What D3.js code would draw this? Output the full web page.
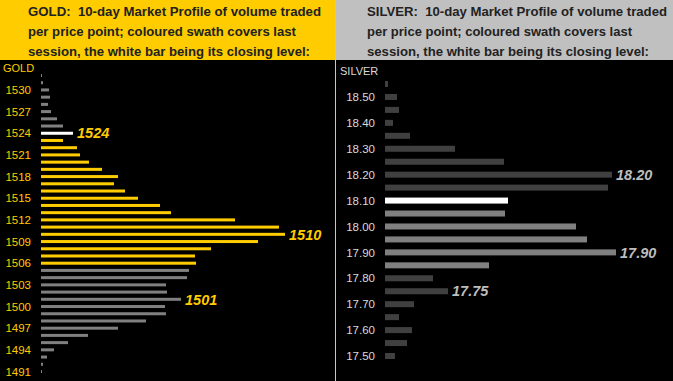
<!DOCTYPE html>
<html>
<head>
<meta charset="utf-8">
<script src="https://cdn.jsdelivr.net/npm/d3@7"></script>
<style>
  body { margin: 0; background: #000; }
  svg { display: block; }
  text { font-family: "Liberation Sans", Arial, sans-serif; }
</style>
</head>
<body>
<div class="chart"></div>
<script>
// gold: price points (top to bottom) and traded volume per point
const goldPrices = [1532, 1531, 1530, 1529, 1528, 1527, 1526, 1525, 1524, 1523, 1522, 1521, 1520, 1519,
  1518, 1517, 1516, 1515, 1514, 1513, 1512, 1511, 1510, 1509, 1508, 1507, 1506, 1505, 1504, 1503,
  1502, 1501, 1500, 1499, 1498, 1497, 1496, 1495, 1494, 1493, 1492, 1491];
const goldVolume = [1, 2, 8, 9, 7, 10, 16, 22, 32, 22, 36, 39, 48, 61,
  77, 73, 84, 97, 119, 130, 194, 238, 244, 217, 170, 154, 155, 148, 146, 125,
  126, 140, 124, 125, 105, 77, 47, 27, 13, 6, 2, 1];
const goldTicks = [1530, 1527, 1524, 1521, 1518, 1515, 1512, 1509, 1506, 1503, 1500, 1497, 1494, 1491];
const goldSession = [1506, 1523];
const goldClose = 1524;
const goldLabels = [1524, 1510, 1501];

// silver
const silverPrices = [18.55, 18.50, 18.45, 18.40, 18.35, 18.30, 18.25, 18.20, 18.15, 18.10, 18.05,
  18.00, 17.95, 17.90, 17.85, 17.80, 17.75, 17.70, 17.65, 17.60, 17.55, 17.50];
const silverVolume = [3, 12, 14, 8, 25, 70, 119, 227, 223, 123, 120,
  191, 202, 231, 104, 48, 63, 29, 14, 27, 22, 10];
const silverTicks = [18.50, 18.40, 18.30, 18.20, 18.10, 18.00, 17.90, 17.80, 17.70, 17.60, 17.50];
const silverSession = [17.85, 18.05];
const silverClose = 18.10;
const silverLabels = [18.20, 17.90, 17.75];

const W = 673, H = 381;
const svg = d3.select(".chart").append("svg")
  .attr("width", W).attr("height", H);

svg.append("rect").attr("width", W).attr("height", H).attr("fill", "#000");

const panels = [
  {
    x0: 0, x1: 335, head: "#FFCC00", title: ["GOLD:  10-day Market Profile of volume traded",
      "per price point; coloured swath covers last", "session, the white bar being its closing level:"],
    titleW: [293, 268, 282],
    titleX: 28, name: "GOLD", nameX: 3, nameY: 68, tickColor: "#FFCC00", labelColor: "#FFCC00",
    prices: goldPrices, vol: goldVolume, ticks: goldTicks, session: goldSession, close: goldClose,
    labels: goldLabels, fmt: d3.format("d"), left: 41, tickX: 31,
    yRange: [75.5, 371.5], barH: 3, other: "#808080", sess: "#FFCC00"
  },
  {
    x0: 336, x1: 673, head: "#C0C0C0", title: ["SILVER:  10-day Market Profile of volume traded",
      "per price point; coloured swath covers last", "session, the white bar being its closing level:"],
    titleW: [300, 265, 282],
    titleX: 367, name: "SILVER", nameX: 340, nameY: 71, tickColor: "#DADADA", labelColor: "#BDBDBD",
    prices: silverPrices, vol: silverVolume, ticks: silverTicks, session: silverSession, close: silverClose,
    labels: silverLabels, fmt: d3.format(".2f"), left: 385, tickX: 375,
    yRange: [84, 356], barH: 6, other: "#404040", sess: "#808080"
  }
];

panels.forEach(p => {
  const g = svg.append("g");

  g.append("rect")
    .attr("x", p.x0).attr("y", 0)
    .attr("width", p.x1 - p.x0).attr("height", 60)
    .attr("fill", p.head);

  g.selectAll(".title")
    .data(p.title)
    .enter().append("text")
    .attr("x", p.titleX)
    .attr("y", (d, i) => 11 + i * 20)
    .attr("dy", "0.36em")
    .style("white-space", "pre")
    .attr("font-size", 13.2)
    .attr("font-weight", "bold")
    .attr("fill", "#222")
    .attr("textLength", (d, i) => p.titleW[i])
    .attr("lengthAdjust", "spacingAndGlyphs")
    .text(d => d);

  g.append("text")
    .attr("x", p.nameX).attr("y", p.nameY)
    .attr("dy", "0.36em")
    .attr("font-size", 11)
    .attr("fill", p.tickColor)
    .text(p.name);

  const y = d3.scaleLinear()
    .domain([p.prices[0], p.prices[p.prices.length - 1]])
    .range(p.yRange);
  const x = d3.scaleLinear().domain([0, 250]).range([p.left, p.left + 250]);

  const eps = 1e-6;
  const colour = pr => Math.abs(pr - p.close) < eps ? "#FFFFFF"
    : (pr >= p.session[0] - eps && pr <= p.session[1] + eps) ? p.sess : p.other;

  g.selectAll(".bar")
    .data(p.prices.map((pr, i) => ({ price: pr, vol: p.vol[i] })))
    .enter().append("rect")
    .attr("x", x(0))
    .attr("y", d => y(d.price) - p.barH / 2)
    .attr("width", d => x(d.vol) - x(0))
    .attr("height", p.barH)
    .attr("fill", d => colour(d.price));

  // price ticks
  const axis = d3.axisLeft(y).tickValues(p.ticks).tickFormat(p.fmt).tickSize(0).tickPadding(0);
  const ax = g.append("g")
    .attr("transform", `translate(${p.tickX},0)`)
    .call(axis);
  ax.select(".domain").remove();
  ax.selectAll("text")
    .attr("font-family", "\"Liberation Sans\", Arial, sans-serif")
    .attr("font-size", 11.5)
    .attr("fill", p.tickColor);

  // callouts
  g.selectAll(".lbl")
    .data(p.labels)
    .enter().append("text")
    .attr("x", d => x(p.vol[p.prices.findIndex(pr => Math.abs(pr - d) < eps)]) + 4)
    .attr("y", d => y(d))
    .attr("dy", "0.36em")
    .attr("font-size", 14.5)
    .attr("font-weight", "bold")
    .attr("font-style", "italic")
    .attr("fill", p.labelColor)
    .text(d => p.fmt(d));
});

svg.append("line")
  .attr("x1", 335.5).attr("x2", 335.5)
  .attr("y1", 0).attr("y2", H)
  .attr("stroke", "#C8C8C8").attr("stroke-width", 1);
</script>
</body>
</html>
